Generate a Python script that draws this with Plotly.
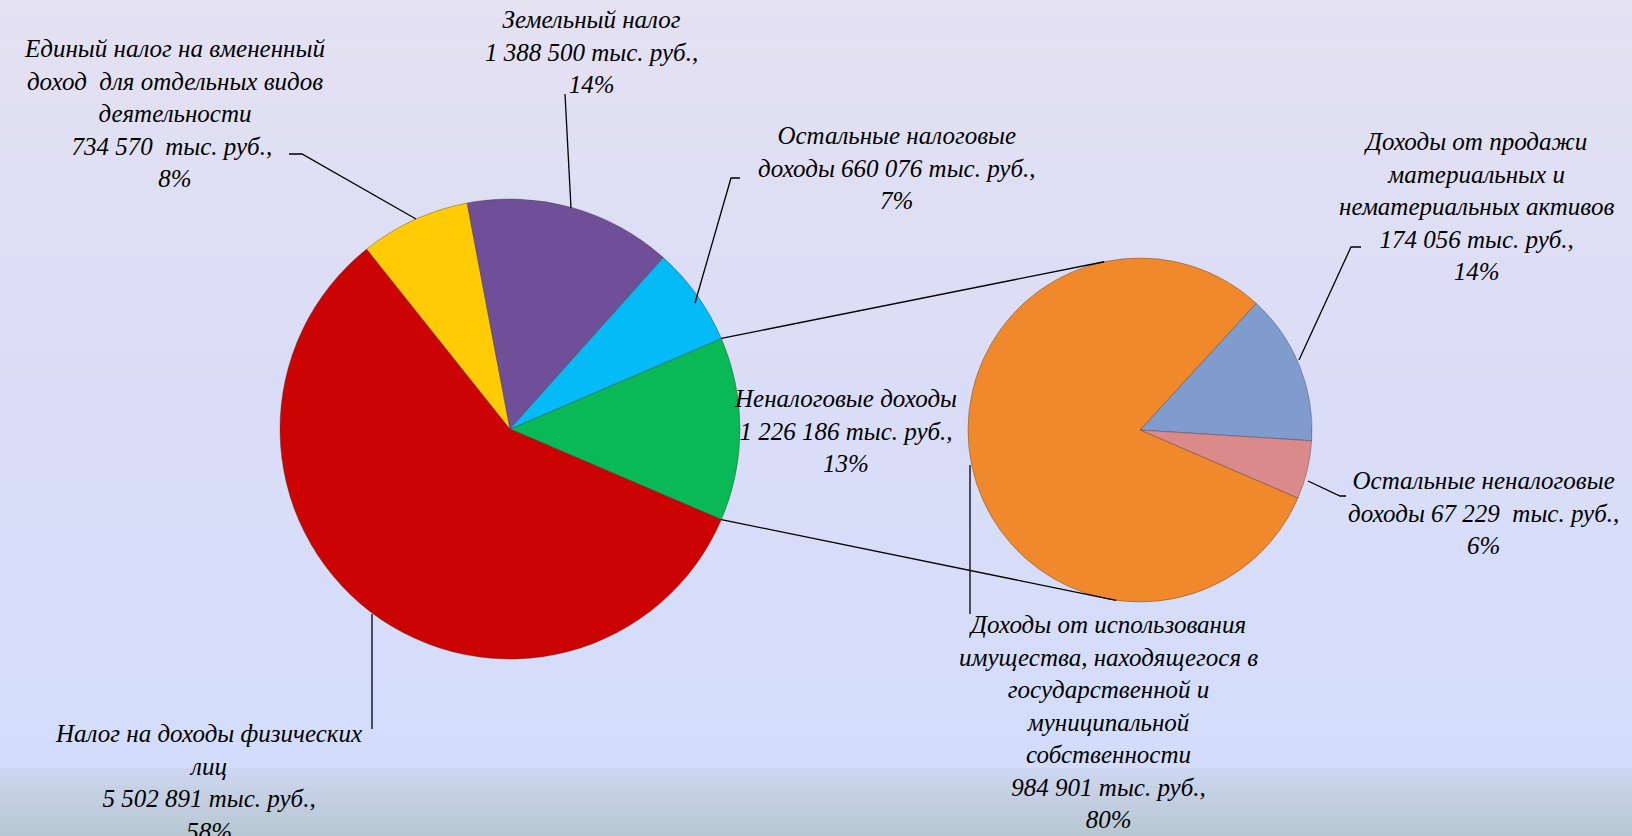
import math
import plotly.graph_objects as go

# ---- data ----
main_labels = ["Неналоговые доходы", "Налог на доходы физических лиц",
               "Единый налог на вмененный доход  для отдельных видов деятельности",
               "Земельный налог", "Остальные налоговые доходы"]
main_values = [1226186, 5502891, 734570, 1388500, 660076]
main_pct = [13, 58, 8, 14, 7]

sub_labels = ["Доходы от продажи материальных и нематериальных активов",
              "Остальные неналоговые доходы",
              "Доходы от использования имущества, находящегося в государственной и муниципальной собственности"]
sub_values = [174056, 67229, 984901]
sub_pct = [14, 6, 80]

main_colors = ["#08B955", "#CC0303", "#FFCB05", "#6F4F98", "#04BBF7"]
sub_colors = ["#809CCF", "#DA8A8A", "#F0882C"]

W, H = 1632, 836

# ---- geometry (pixels) ----
mc = (510, 429); mr = 230
sc = (1140, 430); sr = 172

def dom(c, r):
    return dict(x=[(c[0] - r) / W, (c[0] + r) / W],
                y=[1 - (c[1] + r) / H, 1 - (c[1] - r) / H])

green_frac = main_values[0] / sum(main_values)
main_rot = 90 - green_frac * 180
sub_rot = 42.5

fig = go.Figure()

# background gradient
stops = [(0, (228, 225, 241)), (400, (218, 221, 247)), (765, (211, 221, 251)),
         (772, (204, 213, 238)), (836, (184, 199, 209))]
def col(y):
    for (y0, c0), (y1, c1) in zip(stops[:-1], stops[1:]):
        if y0 <= y <= y1:
            t = (y - y0) / (y1 - y0) if y1 > y0 else 0
            return "rgb(%d,%d,%d)" % tuple(round(a + (b - a) * t) for a, b in zip(c0, c1))
    return "rgb(%d,%d,%d)" % stops[-1][1]
shapes = []
step = 6
for y in range(0, H, step):
    shapes.append(dict(type="rect", xref="paper", yref="paper", x0=0, x1=1,
                       y0=1 - (y + step) / H, y1=1 - y / H, fillcolor=col(y + step / 2),
                       line=dict(width=0), layer="below"))

fig.add_trace(go.Pie(values=main_values, labels=main_labels, sort=False,
                     direction="clockwise", rotation=main_rot,
                     marker=dict(colors=main_colors, line=dict(color="rgba(60,40,40,0.35)", width=1)),
                     textinfo="none", hoverinfo="label+value+percent",
                     domain=dom(mc, mr), showlegend=False))
fig.add_trace(go.Pie(values=sub_values, labels=sub_labels, sort=False,
                     direction="clockwise", rotation=sub_rot,
                     marker=dict(colors=sub_colors, line=dict(color="rgba(60,40,40,0.35)", width=1)),
                     textinfo="none", hoverinfo="label+value+percent",
                     domain=dom(sc, sr), showlegend=False))

def px(x, y):
    return x / W, 1 - y / H

def line(pts):
    path = "M " + " L ".join("%f,%f" % px(x, y) for x, y in pts)
    shapes.append(dict(type="path", xref="paper", yref="paper", path=path,
                       line=dict(color="black", width=1.3)))

# connector lines from the split slice to the secondary pie
ang = math.radians(green_frac * 180)
top_main = (mc[0] + mr * math.cos(ang), mc[1] - mr * math.sin(ang))
bot_main = (mc[0] + mr * math.cos(ang), mc[1] + mr * math.sin(ang))
t2 = math.radians(102); b2 = math.radians(-98)
line([top_main, (sc[0] + sr * math.cos(t2), sc[1] - sr * math.sin(t2))])
line([bot_main, (sc[0] + sr * math.cos(b2), sc[1] - sr * math.sin(b2))])

# leader lines
line([(289, 154), (302, 154), (416, 219)])
line([(565, 94), (571, 208)])
line([(740, 178), (731, 178), (695, 303)])
line([(372, 614), (372, 729)])
line([(1361, 247), (1351, 247), (1299, 360)])
line([(1308, 481), (1340, 496), (1346, 496)])
line([(970, 465), (970, 614)])

def fmt(v):
    return "{:,}".format(v).replace(",", " ")

texts = [
    (174, 114, "Единый налог на вмененный<br>доход  для отдельных видов<br>деятельности<br>%s  тыс. руб., <br>%d%%" % (fmt(main_values[2]), main_pct[2])),
    (591, 52, "Земельный налог<br>%s тыс. руб.,<br>%d%%" % (fmt(main_values[3]), main_pct[3])),
    (897, 168, "Остальные налоговые<br>доходы %s тыс. руб.,<br>%d%%" % (fmt(main_values[4]), main_pct[4])),
    (845, 431, "Неналоговые доходы<br>%s тыс. руб.,<br>%d%%" % (fmt(main_values[0]), main_pct[0])),
    (208, 782, "Налог на доходы физических<br>лиц<br>%s тыс. руб.,<br>%d%%" % (fmt(main_values[1]), main_pct[1])),
    (1476, 206, "Доходы от продажи<br>материальных и<br>нематериальных активов<br>%s тыс. руб.,<br>%d%%" % (fmt(sub_values[0]), sub_pct[0])),
    (1483, 513, "Остальные неналоговые<br>доходы %s  тыс. руб.,<br>%d%%" % (fmt(sub_values[1]), sub_pct[1])),
    (1108, 722, "Доходы от использования<br>имущества, находящегося в<br>государственной и<br>муниципальной<br>собственности<br>%s тыс. руб.,<br>%d%%" % (fmt(sub_values[2]), sub_pct[2])),
]
annotations = []
for x, y, t in texts:
    xp, yp = px(x, y)
    annotations.append(dict(x=xp, y=yp, xref="paper", yref="paper", text="<i>" + t + "</i>",
                            showarrow=False, align="center", xanchor="center", yanchor="middle",
                            font=dict(family="Liberation Serif, Times New Roman, serif", size=25, color="black")))

fig.update_layout(width=W, height=H, margin=dict(l=0, r=0, t=0, b=0),
                  paper_bgcolor="#DCDEF5", plot_bgcolor="rgba(0,0,0,0)",
                  shapes=shapes, annotations=annotations, showlegend=False)
fig.write_html("out.html", config={"displayModeBar": False},
               post_script="document.body.style.margin='0';document.body.style.overflow='hidden';")
